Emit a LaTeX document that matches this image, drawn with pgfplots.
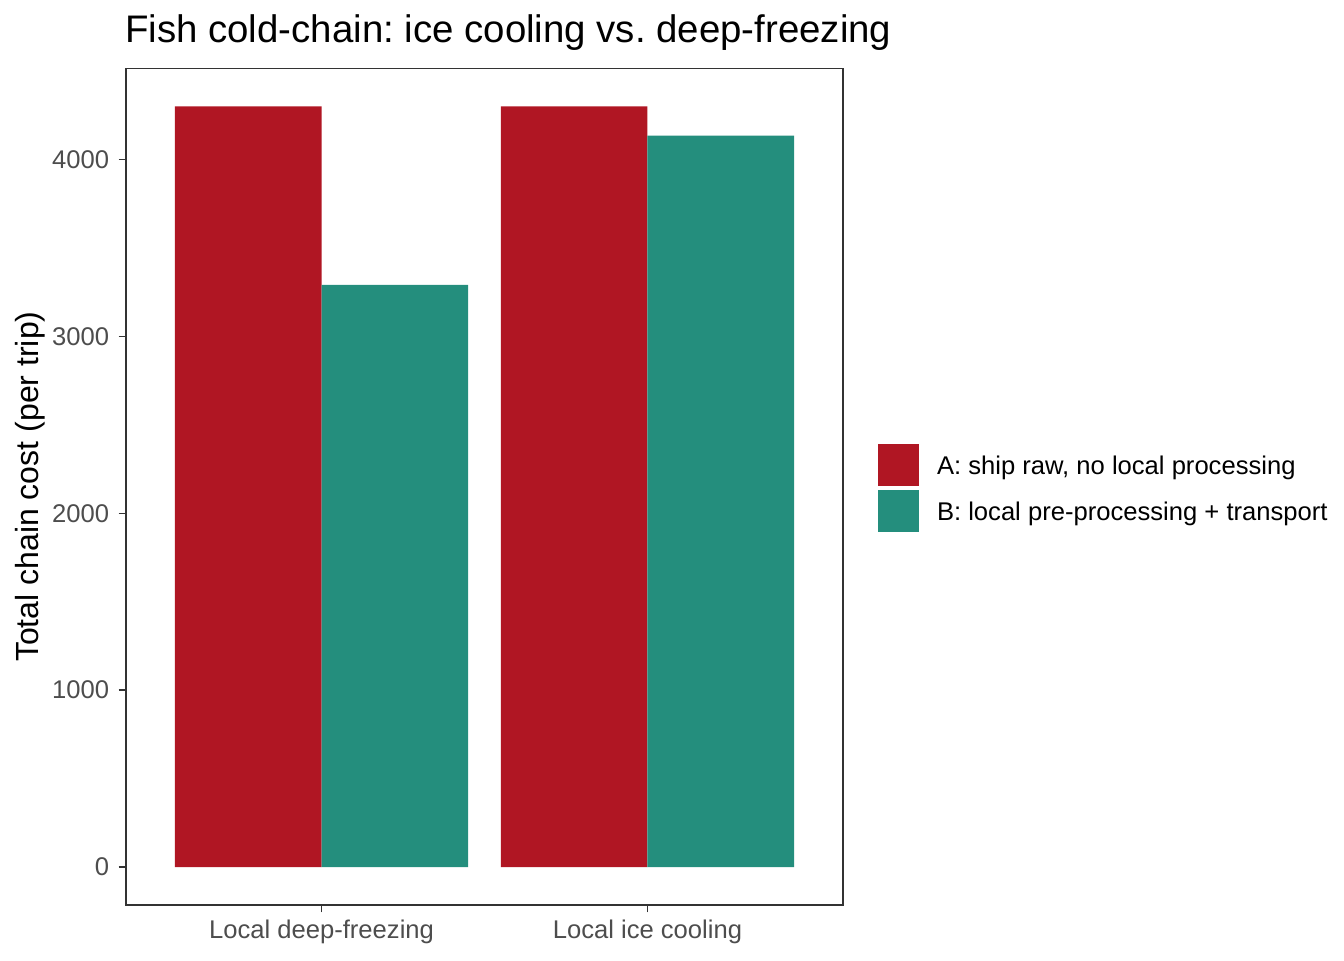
\documentclass[border=0pt]{standalone}
\usepackage{fontspec}
\setmainfont{Liberation Sans}
\usepackage{pgfplots}
\pgfplotsset{compat=1.18}
\definecolor{cA}{HTML}{B01623}
\definecolor{cB}{HTML}{248E7D}
\definecolor{g20}{HTML}{333333}
\definecolor{g30}{HTML}{4D4D4D}
\begin{document}
\frenchspacing
\begin{tikzpicture}
\useasboundingbox (0,0) rectangle (504pt,360pt);
\begin{axis}[
  at={(47.25pt,20.6pt)}, anchor=south west,
  scale only axis, width=268.875pt, height=313.8pt,
  xmin=0.4, xmax=2.6, ymin=-215, ymax=4515,
  ybar, bar width=0.45,
  xtick={1,2}, xticklabels={Local deep-freezing, Local ice cooling},
  ytick={0,1000,2000,3000,4000},
  xtick pos=bottom, ytick pos=left,
  tick align=outside, major tick length=2.75pt,
  every tick/.style={g20, line width=0.5pt},
  axis line style={g20, line width=0.5pt},
  /pgf/number format/assume math mode=true,
  /pgf/number format/set thousands separator={},
  ticklabel style={font=\fontsize{9.6}{11}\selectfont, text=g30},
  xticklabel style={inner sep=0pt, yshift=-2.6pt},
  yticklabel style={inner sep=0pt, xshift=-3.4pt},
  ylabel={Total chain cost (per trip)},
  ylabel style={font=\fontsize{12}{14}\selectfont, at={(rel axis cs:0,0.5)}, anchor=center, yshift=36pt},
  every axis title shift=0pt,
  title={Fish cold-chain: ice cooling vs. deep-freezing},
  title style={font=\fontsize{14.4}{17}\selectfont, at={(rel axis cs:0,1)}, anchor=base west, inner sep=0pt, xshift=-0.5pt, yshift=9.6pt},
  legend style={draw=none, fill=none, at={(rel axis cs:1,0.5)}, anchor=west, xshift=13.1pt, yshift=-0.5pt,
    inner sep=0pt, outer sep=0pt, column sep=6.75pt, row sep=1.5pt,
    nodes={inner sep=0pt, font=\fontsize{9.6}{11}\selectfont, text depth=0pt}},
  legend cell align=left,
]
\addplot[fill=cA, draw=none, bar shift=-0.225,
  legend image code/.code={\fill[cA] (0pt,-7.8pt) rectangle (15.4pt,7.8pt);}]
  coordinates {(1,4300) (2,4300)};
\addlegendentry{A: ship raw, no local processing}
\addplot[fill=cB, draw=none, bar shift=0.225,
  legend image code/.code={\fill[cB] (0pt,-7.8pt) rectangle (15.4pt,7.8pt);}]
  coordinates {(1,3290) (2,4135)};
\addlegendentry{B: local pre-processing + transport}
\end{axis}
\end{tikzpicture}
\end{document}
